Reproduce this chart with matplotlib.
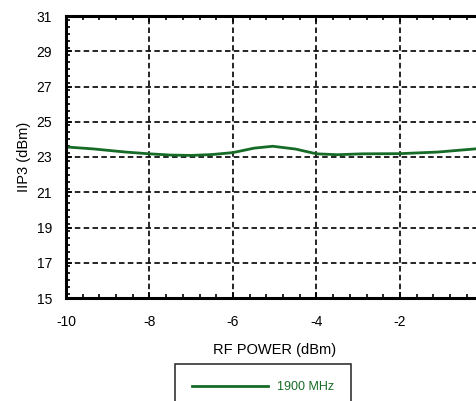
import matplotlib.pyplot as plt
from matplotlib.ticker import MultipleLocator

# Data
rf_power = [-10, -9.35, -8.57, -8, -7.5, -7, -6.5, -6, -5.5, -5.05, -4.5, -4, -3.5, -2.9, -2, -1.1, -0.15]
iip3_1900 = [23.57, 23.46, 23.28, 23.18, 23.11, 23.09, 23.14, 23.25, 23.50, 23.61, 23.45, 23.18, 23.13, 23.18, 23.19, 23.28, 23.47]

x_ticks = [-10, -8, -6, -4, -2, 0]
x_labels = ['-10', '-8', '-6', '-4', '-2', '']
y_ticks = [15, 17, 19, 21, 23, 25, 27, 29, 31]

plt.rcParams['font.family'] = ['Liberation Sans', 'DejaVu Sans']
plt.rcParams['axes.unicode_minus'] = False

fig = plt.figure(figsize=(4.77, 4.01), dpi=100)
ax = fig.add_axes([66 / 477, 1 - 298 / 401, (483.5 - 66) / 477, (298 - 16) / 401])

line, = ax.plot(rf_power, iip3_1900, color='#166b26', lw=2.0, label='1900 MHz')

ax.set_xlim(-10, 0)
ax.set_ylim(15, 31)
ax.set_xticks(x_ticks, x_labels)
ax.set_yticks(y_ticks)
ax.xaxis.set_minor_locator(MultipleLocator(0.4))
ax.yaxis.set_minor_locator(MultipleLocator(0.4))
ax.tick_params(which='both', direction='in', top=True, right=True, labelsize=10, width=1.2)
ax.tick_params(which='major', length=4)
ax.tick_params(axis='x', which='major', pad=12)
ax.tick_params(axis='y', which='major', pad=10)
ax.tick_params(which='minor', length=3)
ax.grid(True, which='major', color='black', lw=1.2, ls=(0, (3.3, 2)))
for s in ax.spines.values():
    s.set_linewidth(2.2)

ax.set_xlabel('RF POWER (dBm)', fontsize=10.5, labelpad=10)
ax.set_ylabel('IIP3 (dBm)', fontsize=10.5, labelpad=4)

leg = fig.legend(handles=[line], loc='upper center', bbox_to_anchor=(263 / 477, 1 - 364 / 401),
                 fontsize=9, labelcolor='#166b26', fancybox=False, edgecolor='black',
                 handlelength=6.1, handletextpad=0.65, borderpad=1.4, borderaxespad=0)
leg.get_frame().set_linewidth(1.2)

fig.savefig('out.png', dpi=100)
